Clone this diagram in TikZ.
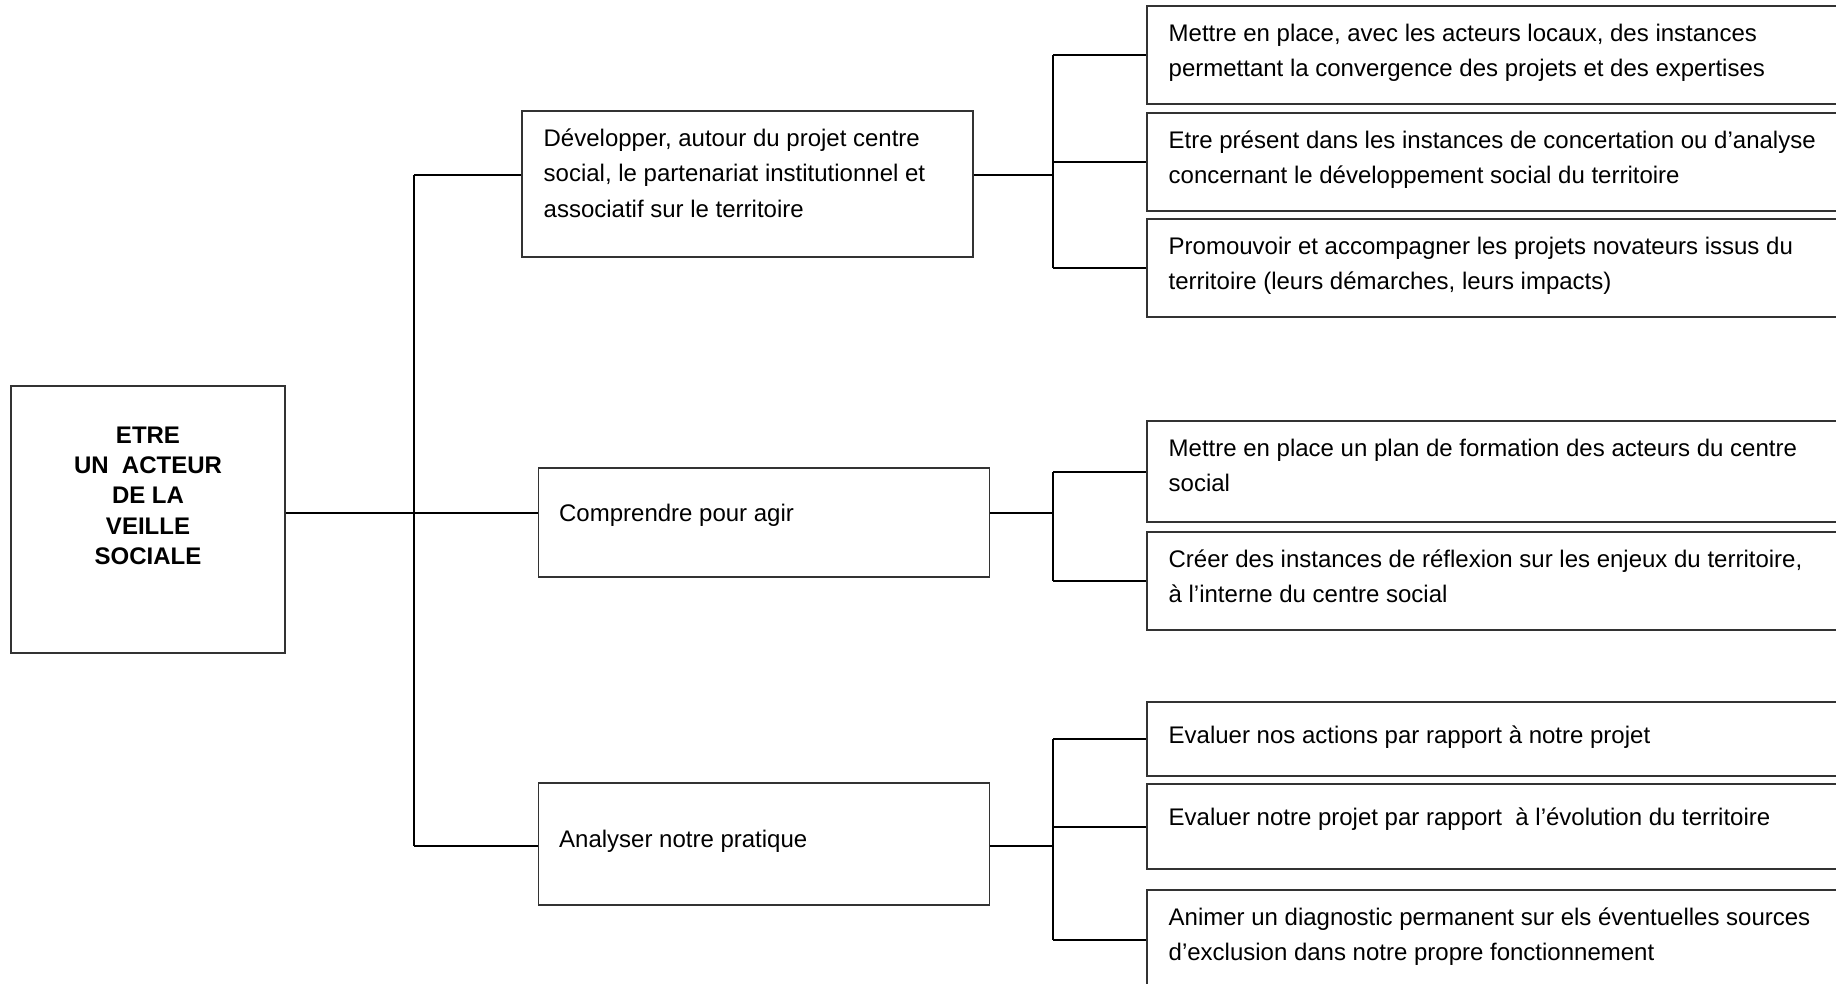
\documentclass[tikz,border=0pt]{standalone}
\usepackage{fontspec}
\setmainfont{Liberation Sans}

\begin{document}
\begin{tikzpicture}[
        x=0.5pt, y=-0.5pt,
        box/.style={rectangle, draw=black!80, line width=0.75pt, inner sep=0pt},
        mid/.style={box, minimum width=225.5pt},
        leaf/.style={box, minimum width=346.5pt},
        txt/.style={inner sep=0pt, align=left, anchor=north west, execute at begin node={\rule{0pt}{12pt}},
                    font=\fontsize{12pt}{17.8pt}\selectfont},
        roottxt/.style={inner sep=0pt, align=center, anchor=north, execute at begin node={\rule{0pt}{12pt}},
                        font=\bfseries\fontsize{12pt}{15.2pt}\selectfont},
        link/.style={line width=1pt, draw=black}
      ]
        \useasboundingbox (0,0) rectangle (1836,984);
        \clip (0,0) rectangle (1836,984);

        \node[box, minimum width=137pt, minimum height=133.5pt] (root) at (148,519.5) {};
        \node[roottxt] (tR) at ([yshift=-20.5pt]root.north) {ETRE\\UN\ \ ACTEUR\\DE LA\\VEILLE\\SOCIALE};

        \node[mid, minimum height=73pt] (bA) at (747.5,184) {};
        \node[mid, minimum height=54.5pt] (bB) at (764,522.5) {};
        \node[mid, minimum height=61pt] (bC) at (764,844) {};
        \node[txt] (tA) at ([shift={(11pt,-9pt)}]bA.north west) {Développer, autour du projet centre\\social, le partenariat institutionnel et\\associatif sur le territoire};
        \node[txt] (tB) at ([shift={(10.5pt,-15pt)}]bB.north west) {Comprendre pour agir};
        \node[txt] (tC) at ([shift={(10.5pt,-20.5pt)}]bC.north west) {Analyser notre pratique};

        \node[leaf, minimum height=49pt] (cA1) at (1493.5,55) {};
        \node[leaf, minimum height=49pt] (cA2) at (1493.5,162) {};
        \node[leaf, minimum height=49pt] (cA3) at (1493.5,268) {};
        \node[leaf, minimum height=50.5pt] (cB1) at (1493.5,471.5) {};
        \node[leaf, minimum height=49pt] (cB2) at (1493.5,581) {};
        \node[leaf, minimum height=37pt] (cC1) at (1493.5,739) {};
        \node[leaf, minimum height=42.5pt] (cC2) at (1493.5,826.5) {};
        \node[leaf, minimum height=50pt] (cC3) at (1493.5,940) {};

        \node[txt] (tA1) at ([shift={(11pt,-9pt)}]cA1.north west) {Mettre en place, avec les acteurs locaux, des instances\\permettant la convergence des projets et des expertises};
        \node[txt] (tA2) at ([shift={(11pt,-9pt)}]cA2.north west) {Etre présent dans les instances de concertation ou d’analyse\\concernant le développement social du territoire};
        \node[txt] (tA3) at ([shift={(11pt,-9pt)}]cA3.north west) {Promouvoir et accompagner les projets novateurs issus du\\territoire (leurs démarches, leurs impacts)};
        \node[txt] (tB1) at ([shift={(11pt,-9pt)}]cB1.north west) {Mettre en place un plan de formation des acteurs du centre\\social};
        \node[txt] (tB2) at ([shift={(11pt,-9pt)}]cB2.north west) {Créer des instances de réflexion sur les enjeux du territoire,\\à l’interne du centre social};
        \node[txt] (tC1) at ([shift={(11pt,-9pt)}]cC1.north west) {Evaluer nos actions par rapport à notre projet};
        \node[txt] (tC2) at ([shift={(11pt,-9pt)}]cC2.north west) {Evaluer notre projet par rapport\ \ à l’évolution du territoire};
        \node[txt] (tC3) at ([shift={(11pt,-9pt)}]cC3.north west) {Animer un diagnostic permanent sur els éventuelles sources\\d’exclusion dans notre propre fonctionnement};

        \coordinate (jA) at (414,175);
        \coordinate (jB) at (414,513);
        \coordinate (jC) at (414,846);
        \coordinate (kA) at (1053,175);
        \coordinate (kB) at (1053,513);
        \coordinate (kC) at (1053,846);

        \draw[link] (jA) -- (jC);
        \draw[link] (root.east |- jB) -- (bB.west |- jB);
        \draw[link] (jA) -- (bA.west |- jA);
        \draw[link] (jC) -- (bC.west |- jC);

        \draw[link] (bA.east |- kA) -- (kA);
        \draw[link] (bB.east |- kB) -- (kB);
        \draw[link] (bC.east |- kC) -- (kC);
        \draw[link] (kA |- cA1.west) -- (kA |- cA3.west);
        \draw[link] (kB |- cB1.west) -- (kB |- cB2.west);
        \draw[link] (kC |- cC1.west) -- (kC |- cC3.west);
        \foreach \c in {cA1,cA2,cA3}
          \draw[link] (kA |- \c.west) -- (\c.west);
        \foreach \c in {cB1,cB2}
          \draw[link] (kB |- \c.west) -- (\c.west);
        \foreach \c in {cC1,cC2,cC3}
          \draw[link] (kC |- \c.west) -- (\c.west);
      \end{tikzpicture}
\end{document}
